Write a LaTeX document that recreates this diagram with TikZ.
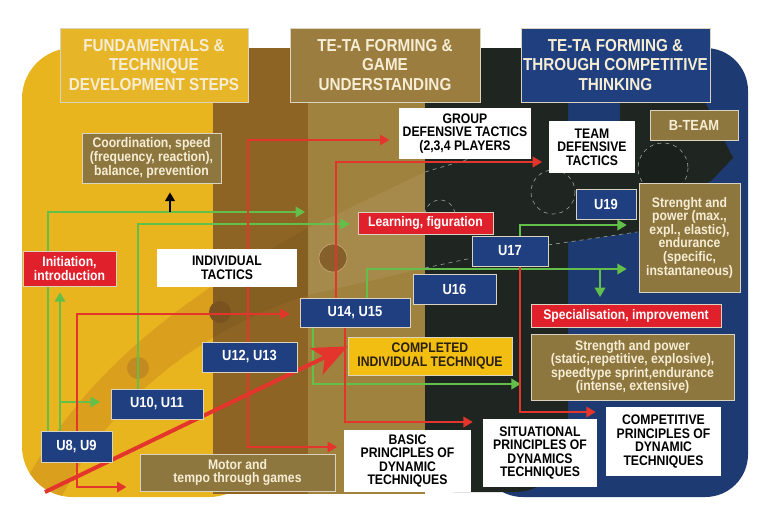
\documentclass[tikz,border=0pt]{standalone}
\usepackage{fontspec}
\setmainfont{Liberation Sans}[FakeStretch=0.88]
\usetikzlibrary{arrows.meta,calc}
\definecolor{cYel}{HTML}{E9B51F}
\definecolor{cHead1}{HTML}{E7B528}
\definecolor{cDBrown}{HTML}{8E6424}
\definecolor{cLBrown}{HTML}{A0823F}
\definecolor{cDark}{HTML}{1F2621}
\definecolor{cNavy}{HTML}{1D3A72}
\definecolor{cHead2}{HTML}{9B7D3F}
\definecolor{cHead3}{HTML}{1F3F7E}
\definecolor{cOlive}{HTML}{8E773F}
\definecolor{cNavyBox}{HTML}{1F3F80}
\definecolor{cRed}{HTML}{E0202B}
\definecolor{cCompleted}{HTML}{F2BE12}
\definecolor{cGreen}{HTML}{62C04A}
\definecolor{cRedL}{HTML}{E3352C}
\definecolor{cBorder}{HTML}{D9D3BF}
\definecolor{cCream}{HTML}{F6EDD4}
\definecolor{cDash}{HTML}{8E9A92}
\definecolor{cBand}{HTML}{C7861C}
\definecolor{cCircA}{HTML}{C48A22}
\definecolor{cCircB}{HTML}{7A5220}
\definecolor{cCircC}{HTML}{86602A}
\definecolor{cCircCb}{HTML}{C8A870}
\definecolor{cCircD}{HTML}{1A201C}
\definecolor{cCompText}{HTML}{2A2010}
\pgfdeclarelayer{bg}
\pgfdeclarelayer{lines}
\pgfsetlayers{bg,lines,main}
\tikzset{
 bx/.style={inner sep=0pt, align=center, draw=cBorder, line width=0.5pt, font=\bfseries\fontsize{10.4}{10.2}\selectfont},
 hdr/.style={bx, font=\bfseries\fontsize{13}{14.3}\selectfont, text=cCream, minimum height=55.5pt},
 navyb/.style={bx, fill=cNavyBox, text=white, font=\bfseries\fontsize{11}{12}\selectfont},
 oliveb/.style={bx, fill=cOlive, text=cCream},
 redb/.style={bx, fill=cRed, text=white},
 whiteb/.style={bx, fill=white, draw=none, text=black},
 garr/.style={draw=cGreen, line width=1.1pt, -{Triangle[length=7pt,width=8pt]}},
 rarr/.style={draw=cRedL, line width=1.1pt, -{Triangle[length=7pt,width=8pt]}},
}
\begin{document}
\begin{tikzpicture}[x=0.75pt,y=-0.75pt]
\useasboundingbox (0,0) rectangle (767,518);
\begin{pgfonlayer}{bg}
\fill[white] (0,0) rectangle (767,518);
\fill[cNavy, rounded corners=32] (480,48) rectangle (748,497);
\fill[cDark, rounded corners=40] (400,48) rectangle (568,492);
\fill[cDark] (568,121) -- (620,121) -- (620,102) -- (705,102) -- (733,158) -- (712,180) -- (637,232) -- (568,242) -- cycle;
\fill[cYel, rounded corners=38] (22,48) rectangle (260,497);
\fill[cDBrown] (213,48) rectangle (308,494);
\fill[cLBrown] (308,48) rectangle (425,494);
\begin{scope}
\clip[rounded corners=38] (22,48) rectangle (213,497);
\fill[cBand,opacity=0.45] (24,484) .. controls (70,400) and (140,320) .. (308,228) -- (308,295) .. controls (200,330) and (110,400) .. (60,500) -- cycle;
\end{scope}
\begin{scope}
\clip (213,48) rectangle (308,494);
\fill[black,opacity=0.06] (24,484) .. controls (70,400) and (140,320) .. (308,228) -- (308,295) .. controls (200,330) and (110,400) .. (60,500) -- cycle;
\end{scope}
\fill[white,opacity=0.07] (308,228) -- (425,172) -- (425,268) -- (308,295) -- cycle;
\fill[cCircA] (138,368) circle[radius=11];
\fill[cCircB] (220,312) circle[radius=11];
\filldraw[fill=cCircC, draw=cCircCb, line width=0.5pt] (333,258) circle[radius=14];
\draw[dashed, cDash, line width=0.5pt] (440,215) circle[radius=15];
\draw[dashed, cDash, line width=0.5pt] (553,192) circle[radius=22];
\filldraw[dashed, fill=cCircD, draw=cDash, line width=0.5pt] (663,168) circle[radius=25];
\draw[dashed, cDash, line width=0.5pt] (425,172) -- (510,147);
\draw[dashed, cDash, line width=0.5pt] (425,268) -- (472,258);
\draw[dashed, cDash, line width=0.5pt] (548,245) -- (637,232);
\end{pgfonlayer}

% headers
\node[hdr, fill=cHead1, minimum width=141pt] (h1) at (154,65) {FUNDAMENTALS \&\\TECHNIQUE\\DEVELOPMENT STEPS};
\node[hdr, fill=cHead2, minimum width=142.5pt] (h2) at (385,65) {TE-TA FORMING \&\\GAME\\UNDERSTANDING};
\node[hdr, fill=cHead3, minimum width=141.75pt] (h3) at (615.5,65) {TE-TA FORMING \&\\THROUGH COMPETITIVE\\THINKING};

% boxes
\node[oliveb, minimum width=104.25pt, minimum height=37.5pt] (coord) at (151.5,158) {Coordination, speed\\(frequency, reaction),\\balance, prevention};
\node[redb, minimum width=69.75pt, minimum height=26.25pt] (init) at (69.5,268.5) {Initiation,\\introduction};
\node[whiteb, minimum width=105pt, minimum height=28.5pt] (indtac) at (227,268) {INDIVIDUAL\\TACTICS};
\node[redb, minimum width=101.25pt, minimum height=16.5pt] (learn) at (425.5,223) {Learning, figuration};
\node[whiteb, minimum width=99pt, minimum height=38.25pt] (group) at (465,133.5) {GROUP\\DEFENSIVE TACTICS\\(2,3,4 PLAYERS};
\node[whiteb, minimum width=64.5pt, minimum height=39pt] (team) at (592,147) {TEAM\\DEFENSIVE\\TACTICS};
\node[oliveb, minimum width=66pt, minimum height=22.5pt, font=\bfseries\fontsize{11}{12}\selectfont] (bteam) at (694,125) {B-TEAM};
\node[navyb, minimum width=45pt, minimum height=22.5pt] (u19) at (606,204) {U19};
\node[oliveb, minimum width=75.75pt, minimum height=81.75pt] (strA) at (689.5,237.5) {Strenght and\\power (max.,\\expl., elastic),\\endurance\\(specific,\\instantaneous)};
\node[navyb, minimum width=57pt, minimum height=22.5pt] (u17) at (510,251) {U17};
\node[navyb, minimum width=62.25pt, minimum height=22.5pt] (u16) at (454.5,289) {U16};
\node[navyb, minimum width=82.5pt, minimum height=21.75pt] (u1415) at (355,312.5) {U14, U15};
\node[navyb, minimum width=71.25pt, minimum height=22.5pt] (u1213) at (249.5,357) {U12, U13};
\node[navyb, minimum width=69pt, minimum height=22.5pt] (u1011) at (157,404) {U10, U11};
\node[navyb, minimum width=53.25pt, minimum height=23.25pt] (u89) at (76.5,446.5) {U8, U9};
\node[oliveb, minimum width=146.25pt, minimum height=27.75pt] (motor) at (237.5,472.5) {Motor and\\tempo through games};
\node[bx, fill=cCompleted, text=cCompText, minimum width=123pt, minimum height=28.5pt] (completed) at (430,356) {COMPLETED\\INDIVIDUAL TECHNIQUE};
\node[redb, minimum width=142.5pt, minimum height=17.25pt] (spec) at (626,315.5) {Specialisation, improvement};
\node[oliveb, minimum width=152.25pt, minimum height=49.5pt] (strB) at (632.5,367) {Strength and power\\(static,repetitive, explosive),\\speedtype sprint,endurance\\(intense, extensive)};
\node[whiteb, minimum width=95.25pt, minimum height=46.5pt] (basic) at (407.5,461) {BASIC\\PRINCIPLES OF\\DYNAMIC\\TECHNIQUES};
\node[whiteb, minimum width=85.5pt, minimum height=51pt] (situ) at (540,453) {SITUATIONAL\\PRINCIPLES OF\\DYNAMICS\\TECHNIQUES};
\node[whiteb, minimum width=86.25pt, minimum height=51.75pt] (compet) at (663.5,441.5) {COMPETITIVE\\PRINCIPLES OF\\DYNAMIC\\TECHNIQUES};

% coordinates
\coordinate (g1c) at (48,212);
\coordinate (g1e) at (305,212);
\coordinate (g2c) at (60,402);
\coordinate (g4c) at (138,224);
\coordinate (g5c) at (367,269);
\coordinate (g5b) at (600,269);
\coordinate (g6c) at (313,384);
\coordinate (g7c) at (520,225);
\coordinate (r1c) at (77,314);
\coordinate (r2c) at (77,487);
\coordinate (r3c) at (248,140);
\coordinate (r4c) at (248,447);
\coordinate (r5c) at (336,162);
\coordinate (r6c) at (345,422);
\coordinate (r7c) at (520,412);
\coordinate (bk) at (170,212);
\coordinate (bigS) at (45,492);

\begin{pgfonlayer}{lines}
% green
\draw[garr] (u89.north -| g1c) -- (g1c) -- (g1e);
\draw[garr, shorten >=4.5pt] (u89.north -| g2c) -- (init.south -| g2c);
\draw[garr, shorten >=8pt] (g2c) -- (u1011.west |- g2c);
\draw[garr, shorten >=6pt] (u1011.north -| g4c) -- (g4c) -- (learn.west |- g4c);
\draw[garr, shorten >=9pt] (u1415.north -| g5c) -- (g5c) -- (strA.west |- g5c);
\draw[garr, shorten >=5pt] (g5b) -- (spec.north -| g5b);
\draw[garr, shorten >=7.5pt] (u1415.south -| g6c) -- (g6c) -- (strB.west |- g6c);
\draw[garr, shorten >=9pt] (u17.north -| g7c) -- (g7c) -- (strA.west |- g7c);
% red
\draw[rarr, shorten >=7.5pt] (u89.north -| r1c) -- (r1c) -- (u1415.west |- r1c);
\draw[rarr, shorten >=10pt] (u89.south -| r2c) -- (r2c) -- (motor.west |- r2c);
\draw[rarr, shorten >=7pt] (u1213.north -| r3c) -- (r3c) -- (group.west |- r3c);
\draw[rarr, shorten >=5pt] (u1213.south -| r4c) -- (r4c) -- (basic.west |- r4c);
\draw[rarr, shorten >=5pt] (u1415.north -| r5c) -- (r5c) -- (team.west |- r5c);
\draw[rarr, shorten >=7.5pt] (u1415.south -| r6c) -- (r6c) -- (situ.west |- r6c);
\draw[rarr, shorten >=7.5pt] (u17.south -| r7c) -- (r7c) -- (compet.west |- r7c);
% big red arrow
\draw[cRedL, line width=3pt, -{Stealth[length=26pt,width=22pt,inset=7pt]}] (bigS) -- ($(completed.north west)!0.25!(completed.south west)$);
% black arrow
\draw[black, line width=1.8pt, -{Triangle[length=6.5pt,width=7pt]}, shorten >=6.75pt] (bk) -- (coord.south -| bk);
\end{pgfonlayer}
\end{tikzpicture}
\end{document}
